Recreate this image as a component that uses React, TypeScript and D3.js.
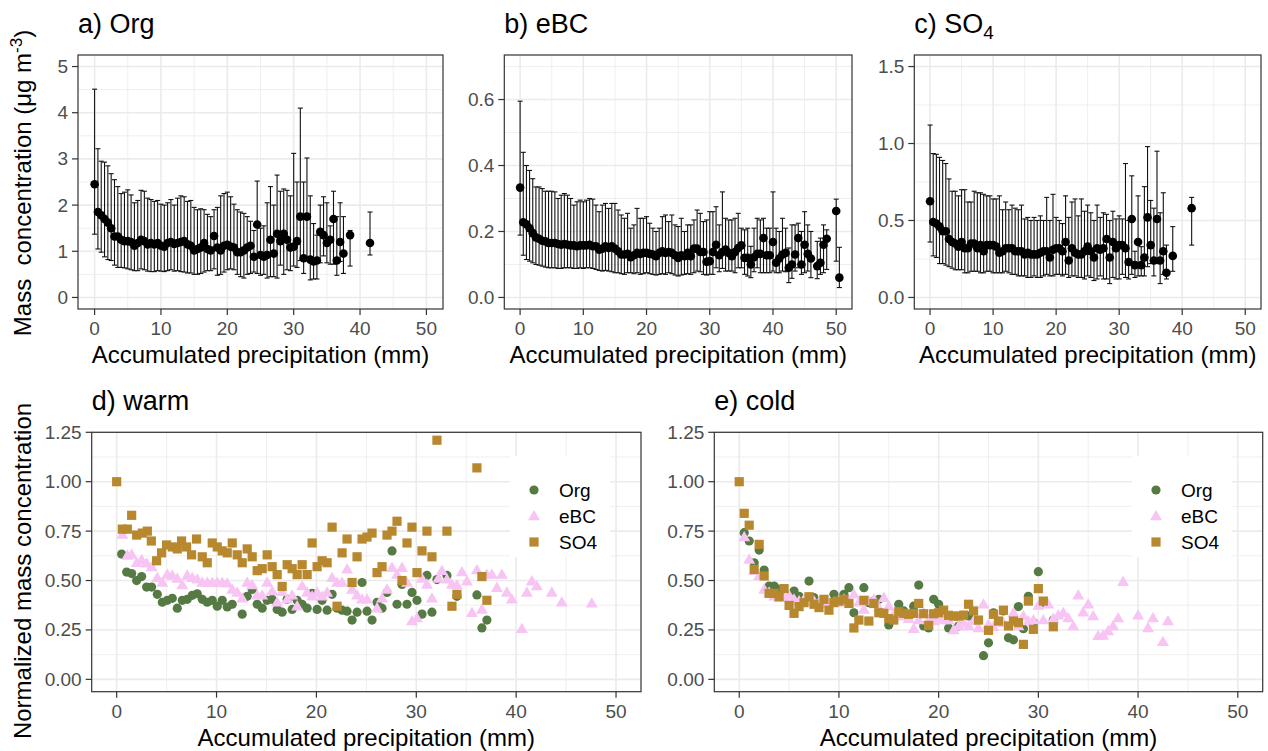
import React from 'react';
import * as d3 from 'd3';

const FONT = '"Liberation Sans", Arial, Helvetica, sans-serif';

// ---------- Panel a) Org : [precip, mean, lower, upper]
const orgStats: number[][] = [
  [0,2.45,1.37,4.51],[0.5,1.85,1.05,3.22],[1,1.78,0.98,2.95],[1.5,1.70,0.88,2.93],[2,1.62,0.82,2.85],
  [2.5,1.50,0.80,2.68],[3,1.32,0.70,2.55],[3.5,1.32,0.65,2.40],[4,1.25,0.65,2.25],[4.5,1.22,0.64,2.28],
  [5,1.22,0.62,2.33],[5.5,1.20,0.60,2.22],[6,1.12,0.58,2.05],[6.5,1.18,0.58,2.10],[7,1.25,0.62,2.32],
  [7.5,1.22,0.60,2.30],[8,1.15,0.57,2.15],[8.5,1.18,0.56,2.12],[9,1.15,0.56,2.08],[9.5,1.18,0.58,2.10],
  [10,1.12,0.57,2.02],[10.5,1.10,0.56,2.00],[11,1.18,0.58,2.05],[11.5,1.20,0.60,2.12],[12,1.16,0.57,2.00],
  [12.5,1.18,0.58,2.15],[13,1.20,0.56,2.20],[13.5,1.22,0.55,2.18],[14,1.15,0.53,2.08],[14.5,1.12,0.53,2.10],
  [15,1.02,0.50,1.95],[15.5,1.05,0.50,1.90],[16,1.08,0.52,1.92],[16.5,1.18,0.55,1.90],[17,1.05,0.58,1.80],
  [17.5,1.02,0.58,1.75],[18,1.33,0.62,1.90],[18.5,1.08,0.48,1.95],[19,1.02,0.50,2.20],[19.5,1.12,0.55,2.25],
  [20,1.14,0.60,2.28],[20.5,1.10,0.62,2.18],[21,1.08,0.60,2.02],[21.5,0.98,0.50,1.90],[22,0.98,0.45,1.85],
  [22.5,1.02,0.42,1.82],[23,1.08,0.50,1.75],[23.5,1.12,0.52,1.65],[24,0.88,0.55,1.45],[24.5,1.58,0.52,2.52],
  [25,0.92,0.48,1.50],[25.5,0.88,0.50,1.55],[26,0.92,0.42,2.05],[26.5,1.25,0.45,2.40],[27,0.95,0.45,2.00],
  [27.5,1.38,0.42,2.65],[28,1.22,0.70,2.30],[28.5,1.38,0.50,2.35],[29,1.25,0.60,2.32],[29.5,1.08,0.58,2.20],
  [30,1.10,0.68,3.12],[30.5,1.22,0.65,2.50],[31,1.75,0.80,4.10],[31.5,0.85,0.52,2.50],[32,1.75,0.80,3.02],
  [32.5,0.82,0.38,2.20],[33,0.78,0.40,1.60],[33.5,0.80,0.40,1.35],[34,1.42,0.75,2.00],[34.5,1.35,0.90,2.18],
  [35,1.18,0.75,2.05],[35.5,1.25,0.72,1.55],[36,1.70,0.72,2.30],[36.5,0.80,0.48,1.75],[37,1.20,0.78,2.05],
  [37.5,0.95,0.52,1.75],[38.5,1.35,0.68,1.45],[41.5,1.18,0.92,1.85],
];

// ---------- Panel b) eBC
const ebcStats: number[][] = [
  [0,0.333,0.189,0.595],[0.5,0.228,0.128,0.44],[1,0.222,0.115,0.40],[1.5,0.210,0.11,0.385],[2,0.195,0.105,0.36],
  [2.5,0.182,0.10,0.335],[3,0.178,0.098,0.335],[3.5,0.172,0.095,0.33],[4,0.170,0.092,0.322],[4.5,0.165,0.09,0.322],
  [5,0.165,0.09,0.322],[5.5,0.165,0.09,0.32],[6,0.162,0.088,0.30],[6.5,0.16,0.088,0.31],[7,0.162,0.09,0.315],
  [7.5,0.16,0.09,0.31],[8,0.158,0.09,0.30],[8.5,0.158,0.088,0.28],[9,0.155,0.088,0.29],[9.5,0.158,0.09,0.295],
  [10,0.158,0.088,0.29],[10.5,0.158,0.09,0.295],[11,0.16,0.09,0.30],[11.5,0.155,0.088,0.298],[12,0.155,0.085,0.28],
  [12.5,0.145,0.082,0.26],[13,0.148,0.08,0.28],[13.5,0.155,0.082,0.285],[14,0.15,0.08,0.27],[14.5,0.155,0.078,0.285],
  [15,0.148,0.075,0.285],[15.5,0.14,0.075,0.265],[16,0.13,0.072,0.25],[16.5,0.13,0.07,0.24],[17,0.132,0.075,0.255],
  [17.5,0.122,0.075,0.21],[18,0.128,0.072,0.22],[18.5,0.135,0.075,0.27],[19,0.132,0.07,0.24],[19.5,0.135,0.072,0.24],
  [20,0.135,0.075,0.245],[20.5,0.132,0.072,0.225],[21,0.13,0.07,0.21],[21.5,0.125,0.068,0.20],[22,0.135,0.07,0.21],
  [22.5,0.14,0.072,0.245],[23,0.135,0.07,0.25],[23.5,0.138,0.075,0.23],[24,0.135,0.072,0.25],[24.5,0.128,0.068,0.22],
  [25,0.12,0.065,0.215],[25.5,0.128,0.068,0.24],[26,0.125,0.07,0.20],[26.5,0.135,0.072,0.22],[27,0.125,0.07,0.22],
  [27.5,0.148,0.075,0.235],[28,0.148,0.08,0.265],[28.5,0.138,0.078,0.255],[29,0.138,0.07,0.23],[29.5,0.108,0.068,0.235],
  [30,0.11,0.07,0.26],[30.5,0.138,0.07,0.26],[31,0.16,0.09,0.275],[31.5,0.128,0.078,0.22],[32,0.138,0.088,0.32],
  [32.5,0.145,0.08,0.24],[33,0.135,0.08,0.235],[33.5,0.125,0.08,0.235],[34,0.138,0.075,0.24],[34.5,0.15,0.09,0.255],
  [35,0.158,0.09,0.21],[35.5,0.12,0.07,0.205],[36,0.12,0.065,0.21],[36.5,0.10,0.06,0.155],[37,0.122,0.078,0.21],
  [37.5,0.132,0.09,0.24],[38,0.132,0.075,0.235],[38.5,0.18,0.075,0.24],[39,0.128,0.075,0.21],[39.5,0.128,0.075,0.21],
  [40,0.168,0.08,0.32],[40.5,0.105,0.075,0.21],[41,0.118,0.075,0.20],[41.5,0.13,0.08,0.24],[42,0.135,0.078,0.21],
  [42.5,0.09,0.045,0.15],[43,0.10,0.058,0.22],[43.5,0.13,0.08,0.22],[44,0.18,0.09,0.225],[44.5,0.10,0.07,0.20],
  [45,0.16,0.075,0.26],[45.5,0.132,0.08,0.22],[46,0.118,0.06,0.20],[47,0.095,0.057,0.17],[47.5,0.105,0.07,0.18],
  [48,0.16,0.075,0.22],[48.5,0.178,0.085,0.205],[50,0.262,0.11,0.298],[50.5,0.06,0.03,0.152],
];

// ---------- Panel c) SO4
const so4Stats: number[][] = [
  [0,0.625,0.36,1.12],[0.5,0.49,0.27,0.935],[1,0.48,0.26,0.93],[1.5,0.46,0.22,0.91],[2,0.43,0.22,0.89],
  [2.5,0.43,0.21,0.87],[3,0.38,0.20,0.77],[3.5,0.36,0.19,0.69],[4,0.35,0.18,0.69],[4.5,0.33,0.18,0.66],
  [5,0.36,0.18,0.70],[5.5,0.32,0.16,0.70],[6,0.32,0.16,0.62],[6.5,0.35,0.17,0.62],[7,0.35,0.17,0.69],
  [7.5,0.32,0.17,0.68],[8,0.34,0.16,0.68],[8.5,0.30,0.16,0.67],[9,0.34,0.17,0.66],[9.5,0.34,0.17,0.66],
  [10,0.34,0.16,0.64],[10.5,0.33,0.16,0.64],[11,0.29,0.16,0.66],[11.5,0.30,0.16,0.57],[12,0.32,0.17,0.62],
  [12.5,0.32,0.16,0.57],[13,0.32,0.15,0.60],[13.5,0.30,0.15,0.58],[14,0.30,0.14,0.57],[14.5,0.30,0.14,0.60],
  [15,0.28,0.14,0.51],[15.5,0.29,0.13,0.52],[16,0.28,0.13,0.50],[16.5,0.28,0.14,0.52],[17,0.28,0.13,0.50],
  [17.5,0.29,0.13,0.53],[18,0.30,0.14,0.50],[18.5,0.30,0.15,0.65],[19,0.26,0.14,0.50],[19.5,0.31,0.14,0.67],
  [20,0.32,0.15,0.52],[20.5,0.32,0.15,0.50],[21,0.30,0.14,0.48],[21.5,0.36,0.15,0.66],[22,0.24,0.13,0.52],
  [22.5,0.32,0.14,0.62],[23,0.29,0.14,0.64],[23.5,0.28,0.13,0.53],[24,0.28,0.13,0.64],[24.5,0.30,0.12,0.56],
  [25,0.33,0.14,0.60],[25.5,0.30,0.13,0.55],[26,0.26,0.11,0.50],[26.5,0.32,0.12,0.60],[27,0.31,0.14,0.52],
  [27.5,0.32,0.12,0.55],[28,0.38,0.12,0.54],[28.5,0.26,0.09,0.50],[29,0.36,0.13,0.56],[29.5,0.32,0.12,0.51],
  [30,0.34,0.12,0.53],[30.5,0.34,0.15,0.51],[31,0.32,0.13,0.87],[31.5,0.23,0.12,0.50],[32,0.51,0.15,0.79],
  [32.5,0.21,0.13,0.30],[33,0.36,0.14,0.66],[33.5,0.21,0.14,0.33],[34,0.26,0.14,0.72],[34.5,0.52,0.20,0.98],
  [35,0.34,0.22,0.63],[35.5,0.24,0.14,0.58],[36,0.51,0.22,0.95],[36.5,0.24,0.09,0.55],[37,0.30,0.15,0.68],
  [37.5,0.16,0.12,0.34],[38.5,0.27,0.17,0.46],[41.5,0.58,0.34,0.65],
];

// ---------- Panel d) warm : [precip, normalized]
const warmOrg: number[][] = [
  [0.5,0.634],[1.0,0.543],[1.5,0.535],[2.0,0.50],[2.5,0.52],[3.0,0.467],[3.5,0.467],[4.07,0.43],[4.57,0.39],
  [5.07,0.40],[5.57,0.41],[6.07,0.36],[6.57,0.40],[7.07,0.405],[7.57,0.425],[8.07,0.433],[8.57,0.405],[9.07,0.39],
  [9.57,0.40],[10.07,0.37],[10.57,0.40],[11.07,0.366],[11.57,0.38],[12.57,0.33],[13.07,0.42],[13.57,0.455],
  [14.07,0.38],[14.57,0.36],[15.07,0.40],[15.57,0.405],[16.07,0.354],[16.57,0.34],[17.07,0.405],[17.57,0.354],
  [18.07,0.40],[18.57,0.38],[19.07,0.36],[19.57,0.435],[20.07,0.354],[20.57,0.40],[21.07,0.35],[21.57,0.43],
  [22.07,0.36],[22.57,0.35],[23.07,0.345],[23.57,0.30],[24.07,0.34],[24.57,0.49],[25.07,0.345],[25.57,0.30],
  [26.07,0.39],[26.57,0.36],[27.07,0.44],[27.57,0.65],[28.07,0.38],[28.57,0.48],[29.07,0.38],[29.57,0.44],
  [30.07,0.40],[30.57,0.33],[31.07,0.526],[31.57,0.34],[32.07,0.505],[33.07,0.526],[34.07,0.42],[36.07,0.427],
  [36.57,0.26],[37.07,0.30],
];
const warmEbc: number[][] = [
  [0.57,0.733],[1.07,0.627],[1.5,0.632],[2.0,0.59],[2.5,0.604],[3.0,0.587],[3.5,0.568],[4.07,0.514],[4.57,0.49],
  [5.07,0.53],[5.57,0.526],[6.07,0.51],[6.57,0.477],[7.07,0.526],[7.57,0.514],[8.07,0.506],[8.57,0.49],[9.07,0.49],
  [9.57,0.49],[10.07,0.49],[10.57,0.49],[11.07,0.486],[11.57,0.455],[12.07,0.44],[12.57,0.41],[13.07,0.49],
  [13.57,0.477],[14.07,0.425],[14.57,0.425],[15.07,0.49],[15.57,0.447],[16.07,0.39],[16.57,0.443],[17.07,0.405],
  [17.57,0.425],[18.07,0.37],[18.57,0.472],[19.07,0.44],[19.57,0.42],[20.07,0.44],[20.57,0.42],[21.07,0.44],
  [21.57,0.514],[22.07,0.49],[22.57,0.49],[23.07,0.557],[23.57,0.455],[24.07,0.425],[24.57,0.405],[25.07,0.405],
  [26.07,0.36],[26.57,0.41],[27.07,0.455],[27.57,0.565],[28.07,0.53],[28.57,0.565],[29.07,0.49],[29.57,0.295],
  [30.07,0.31],[30.57,0.51],[31.07,0.48],[31.57,0.41],[32.2,0.51],[32.57,0.55],[33.07,0.506],[33.57,0.48],
  [34.07,0.477],[34.57,0.543],[35.07,0.497],[35.57,0.337],[36.07,0.553],[36.57,0.354],[37.07,0.53],[37.57,0.53],
  [38.07,0.464],[38.57,0.53],[39.07,0.44],[39.57,0.405],[40.57,0.256],[41.07,0.44],[41.57,0.497],[42.07,0.472],
  [43.57,0.44],[44.57,0.39],[47.57,0.385],
];
const warmSo4: number[][] = [
  [0,1.00],[0.57,0.76],[1.07,0.76],[1.5,0.83],[2,0.73],[2.57,0.74],[3.07,0.75],[3.47,0.70],[4,0.60],[4.5,0.64],
  [5,0.68],[5.57,0.67],[6.07,0.66],[6.5,0.70],[7,0.67],[7.5,0.63],[8,0.71],[8.57,0.62],[9.07,0.59],[9.57,0.69],
  [10.07,0.67],[10.57,0.65],[11.07,0.64],[11.57,0.69],[12.07,0.63],[12.57,0.59],[13.07,0.66],[13.57,0.62],
  [14.07,0.55],[14.57,0.56],[15.07,0.63],[15.57,0.57],[16.07,0.53],[16.57,0.47],[17.07,0.58],[17.57,0.56],
  [18.07,0.53],[18.57,0.58],[19.07,0.53],[19.57,0.69],[20.07,0.57],[20.57,0.60],[21.07,0.59],[21.57,0.77],
  [22.07,0.37],[22.57,0.64],[23.07,0.71],[23.57,0.49],[24.07,0.62],[24.57,0.71],[25.07,0.72],[25.57,0.74],
  [26.07,0.54],[26.57,0.57],[27.07,0.73],[27.57,0.75],[28.07,0.80],[28.57,0.50],[29.07,0.69],[29.57,0.77],
  [30.07,0.54],[30.57,0.65],[31.07,0.75],[31.57,0.62],[32.07,1.21],[33.07,0.75],[33.57,0.37],[34.07,0.43],
  [36.07,1.07],[36.57,0.52],[37.07,0.40],
];

// ---------- Panel e) cold
const coldOrg: number[][] = [
  [0.5,0.742],[1.0,0.70],[1.5,0.59],[2.0,0.654],[2.5,0.553],[3.0,0.472],[3.5,0.472],[4.0,0.455],[5.5,0.447],
  [6.0,0.42],[7.0,0.497],[7.5,0.413],[9.5,0.43],[10.5,0.43],[11.0,0.464],[11.5,0.337],[12.5,0.464],[13.0,0.388],
  [13.5,0.396],[14.0,0.405],[15.0,0.275],[16.0,0.38],[16.5,0.346],[17.5,0.37],[18.0,0.477],[18.5,0.27],
  [19.0,0.26],[19.5,0.405],[20.0,0.38],[21.0,0.26],[22.0,0.27],[23.0,0.32],[24.5,0.12],[25.0,0.185],[25.5,0.337],
  [26.5,0.346],[27.0,0.21],[27.5,0.20],[28.0,0.368],[28.5,0.256],[29.0,0.42],[29.5,0.287],[30.0,0.545],
  [30.5,0.388],[31.5,0.30],
];
const coldEbc: number[][] = [
  [0.5,0.72],[1.0,0.607],[1.5,0.55],[2.0,0.523],[2.5,0.455],[3.0,0.44],[3.5,0.42],[4.0,0.413],[4.5,0.413],
  [5.0,0.425],[5.5,0.405],[6.0,0.396],[6.5,0.405],[7.0,0.413],[7.5,0.396],[8.0,0.39],[8.5,0.384],[9.0,0.388],
  [9.5,0.388],[10.0,0.39],[10.5,0.405],[11.0,0.396],[11.5,0.43],[12.0,0.39],[12.5,0.354],[13.0,0.396],
  [13.5,0.405],[14.0,0.363],[14.5,0.413],[15.0,0.37],[15.5,0.329],[16.0,0.32],[16.5,0.32],[17.0,0.307],
  [17.5,0.256],[18.0,0.30],[18.5,0.337],[19.0,0.30],[19.5,0.295],[20.0,0.31],[20.5,0.30],[21.0,0.30],[21.5,0.25],
  [22.0,0.27],[22.5,0.287],[23.0,0.27],[23.5,0.295],[24.0,0.26],[24.5,0.38],[25.0,0.278],[25.5,0.266],
  [26.0,0.295],[26.5,0.287],[27.5,0.337],[28.0,0.27],[28.5,0.32],[29.0,0.295],[29.5,0.30],[30.0,0.374],
  [30.5,0.30],[31.0,0.38],[31.5,0.307],[32.0,0.324],[32.5,0.337],[33.0,0.31],[33.5,0.27],[34.0,0.425],
  [34.5,0.34],[35.0,0.38],[35.5,0.32],[36.0,0.22],[36.5,0.222],[37.0,0.245],[37.5,0.27],[38.0,0.31],[38.5,0.494],
  [40.0,0.324],[41.0,0.26],[41.5,0.31],[42.5,0.19],[43.0,0.295],
];
const coldSo4: number[][] = [
  [0,1.00],[0.5,0.84],[1.0,0.78],[1.5,0.556],[2.0,0.683],[2.5,0.523],[3.0,0.435],[3.5,0.435],[4.0,0.418],
  [4.5,0.459],[5.0,0.374],[5.5,0.334],[6.0,0.368],[6.5,0.388],[7.0,0.418],[7.5,0.38],[8.0,0.363],[8.5,0.405],
  [9.0,0.35],[9.5,0.388],[10.0,0.396],[10.5,0.405],[11.0,0.384],[11.5,0.26],[12.0,0.30],[12.5,0.40],[13.0,0.295],
  [13.5,0.384],[14.0,0.337],[14.5,0.334],[15.0,0.307],[15.5,0.30],[16.0,0.342],[16.5,0.334],[17.0,0.329],
  [17.5,0.334],[18.0,0.384],[18.5,0.332],[19.0,0.273],[19.5,0.332],[20.0,0.337],[20.5,0.35],[21.0,0.324],
  [21.5,0.32],[22.0,0.32],[22.5,0.325],[23.0,0.38],[23.5,0.346],[24.0,0.30],[25.0,0.248],[25.5,0.329],
  [26.0,0.295],[26.5,0.35],[27.0,0.27],[27.5,0.295],[28.0,0.287],[28.5,0.177],[29.0,0.396],[29.5,0.253],
  [30.0,0.459],[30.5,0.396],[31.5,0.266],
];

// ---------- Axis ticks
const xTicks = [0, 10, 20, 30, 40, 50];
const xMinor = [5, 15, 25, 35, 45];
const aTicks = [0, 1, 2, 3, 4, 5];
const aMinor = [0.5, 1.5, 2.5, 3.5, 4.5];
const bTicks = [0, 0.2, 0.4, 0.6];
const bMinor = [0.1, 0.3, 0.5, 0.7];
const cTicks = [0, 0.5, 1.0, 1.5];
const cMinor = [0.25, 0.75, 1.25];
const nTicks = [0, 0.25, 0.5, 0.75, 1.0, 1.25];
const nMinor = [0.125, 0.375, 0.625, 0.875, 1.125];
const seriesNames = ['Org', 'eBC', 'SO4'];
const seriesColors = ['#557A43', '#F7C4F3', '#B8882F'];

const X_DOMAIN: [number, number] = [-2.5, 52.5];
const GRID = '#EBEBEB';
const BORDER = '#333333';
const TICKTXT = '#4D4D4D';

type Rect = { l: number; r: number; t: number; b: number };

function Frame({ rect, x, y, yTicks, yMinor, fmt, children }: any) {
  return (
    <g>
      <rect x={rect.l} y={rect.t} width={rect.r - rect.l} height={rect.b - rect.t} fill="#fff" />
      {xMinor.map((v) => (
        <line key={'xm' + v} x1={x(v)} x2={x(v)} y1={rect.t} y2={rect.b} stroke={GRID} strokeWidth={0.8} />
      ))}
      {yMinor.map((v: number) => (
        <line key={'ym' + v} x1={rect.l} x2={rect.r} y1={y(v)} y2={y(v)} stroke={GRID} strokeWidth={0.8} />
      ))}
      {xTicks.map((v) => (
        <line key={'xM' + v} x1={x(v)} x2={x(v)} y1={rect.t} y2={rect.b} stroke={GRID} strokeWidth={1.6} />
      ))}
      {yTicks.map((v: number) => (
        <line key={'yM' + v} x1={rect.l} x2={rect.r} y1={y(v)} y2={y(v)} stroke={GRID} strokeWidth={1.6} />
      ))}
      {children}
      <rect x={rect.l} y={rect.t} width={rect.r - rect.l} height={rect.b - rect.t} fill="none" stroke={BORDER} strokeWidth={1.2} />
      {xTicks.map((v) => (
        <g key={'xt' + v}>
          <line x1={x(v)} x2={x(v)} y1={rect.b} y2={rect.b + 6} stroke={BORDER} strokeWidth={1.2} />
          <text x={x(v)} y={rect.b + 26} textAnchor="middle" fontSize={19} fill={TICKTXT}>{v}</text>
        </g>
      ))}
      {yTicks.map((v: number) => (
        <g key={'yt' + v}>
          <line x1={rect.l - 6} x2={rect.l} y1={y(v)} y2={y(v)} stroke={BORDER} strokeWidth={1.2} />
          <text x={rect.l - 10} y={y(v)} textAnchor="end" dominantBaseline="central" fontSize={19} fill={TICKTXT}>{fmt(v)}</text>
        </g>
      ))}
      <text x={(rect.l + rect.r) / 2} y={rect.b + 54} textAnchor="middle" fontSize={24} fill="#000">Accumulated precipitation (mm)</text>
    </g>
  );
}

function ErrorPanel({ rect, data, yDomain, yTicks, yMinor, fmt, title }: any) {
  const x = d3.scaleLinear().domain(X_DOMAIN).range([rect.l, rect.r]);
  const y = d3.scaleLinear().domain(yDomain).range([rect.b, rect.t]);
  const cap = 2.5;
  return (
    <g>
      <Frame rect={rect} x={x} y={y} yTicks={yTicks} yMinor={yMinor} fmt={fmt}>
        {data.map((d: number[], i: number) => (
          <g key={'e' + i} stroke="#111" strokeWidth={1.1}>
            <line x1={x(d[0])} x2={x(d[0])} y1={y(d[2])} y2={y(d[3])} />
            <line x1={x(d[0]) - cap} x2={x(d[0]) + cap} y1={y(d[2])} y2={y(d[2])} />
            <line x1={x(d[0]) - cap} x2={x(d[0]) + cap} y1={y(d[3])} y2={y(d[3])} />
          </g>
        ))}
        {data.map((d: number[], i: number) => (
          <circle key={'p' + i} cx={x(d[0])} cy={y(d[1])} r={4.3} fill="#000" />
        ))}
      </Frame>
      <text x={rect.l} y={33} fontSize={27} fill="#000">{title}</text>
    </g>
  );
}

function Marker({ kind, cx, cy, color }: any) {
  if (kind === 0) return <circle cx={cx} cy={cy} r={4.6} fill={color} />;
  if (kind === 1) {
    const p = d3.symbol().type(d3.symbolTriangle).size(62)();
    return <path d={p as string} transform={`translate(${cx},${cy + 0.8})`} fill={color} />;
  }
  return <rect x={cx - 4.6} y={cy - 4.6} width={9.2} height={9.2} fill={color} />;
}

function ScatterPanel({ rect, series, title, legendX }: any) {
  const x = d3.scaleLinear().domain(X_DOMAIN).range([rect.l, rect.r]);
  const y = d3.scaleLinear().domain([-0.0625, 1.25]).range([rect.b, rect.t]);
  const fmt = d3.format('.2f');
  const rows = [490, 516, 542];
  return (
    <g>
      <Frame rect={rect} x={x} y={y} yTicks={nTicks} yMinor={nMinor} fmt={fmt}>
        <rect x={legendX - 24} y={456} width={100} height={101} fill="#fff" />
        {series.map((s: number[][], k: number) =>
          s.map((d, i) => <Marker key={k + '-' + i} kind={k} cx={x(d[0])} cy={y(d[1])} color={seriesColors[k]} />)
        )}
        {seriesNames.map((n, k) => (
          <g key={'lg' + k}>
            <Marker kind={k} cx={legendX} cy={rows[k]} color={seriesColors[k]} />
            <text x={legendX + 25} y={rows[k]} dominantBaseline="central" fontSize={19} fill="#000">{n}</text>
          </g>
        ))}
      </Frame>
      <text x={rect.l} y={410} fontSize={27} fill="#000">{title}</text>
    </g>
  );
}

export default function App() {
  const ra: Rect = { l: 78, r: 443, t: 55, b: 309 };
  const rb: Rect = { l: 504.3, r: 852, t: 55, b: 309 };
  const rc: Rect = { l: 914.3, r: 1261, t: 55, b: 309 };
  const rd: Rect = { l: 91.7, r: 641, t: 432.3, b: 691.7 };
  const re: Rect = { l: 714.3, r: 1262.7, t: 432.3, b: 691.7 };
  const f0 = d3.format('d');
  const f1 = d3.format('.1f');
  return (
    <svg width={1268} height={751} style={{ position: 'absolute', left: 0, top: 0, fontFamily: FONT, background: '#fff' }}>
      <rect x={0} y={0} width={1268} height={751} fill="#fff" />
      <ErrorPanel rect={ra} data={orgStats} yDomain={[-0.25, 5.25]} yTicks={aTicks} yMinor={aMinor} fmt={f0} title="a) Org" />
      <ErrorPanel rect={rb} data={ebcStats} yDomain={[-0.035, 0.735]} yTicks={bTicks} yMinor={bMinor} fmt={f1} title="b) eBC" />
      <ErrorPanel
        rect={rc}
        data={so4Stats}
        yDomain={[-0.075, 1.575]}
        yTicks={cTicks}
        yMinor={cMinor}
        fmt={f1}
        title={<>c) SO<tspan dy={6} fontSize={19}>4</tspan></>}
      />
      <text
        transform="translate(31,183) rotate(-90)"
        textAnchor="middle"
        fontSize={24}
        fill="#000"
        style={{ whiteSpace: 'pre' }}
      >
        {'Mass  concentration (μg m'}
        <tspan dy={-9} fontSize={17}>-3</tspan>
        <tspan dy={9}>)</tspan>
      </text>
      <ScatterPanel rect={rd} series={[warmOrg, warmEbc, warmSo4]} title="d) warm" legendX={534} />
      <ScatterPanel rect={re} series={[coldOrg, coldEbc, coldSo4]} title="e) cold" legendX={1156} />
      <text transform="translate(31,571) rotate(-90)" textAnchor="middle" fontSize={24} fill="#000">
        Normalized mass concentration
      </text>
    </svg>
  );
}
